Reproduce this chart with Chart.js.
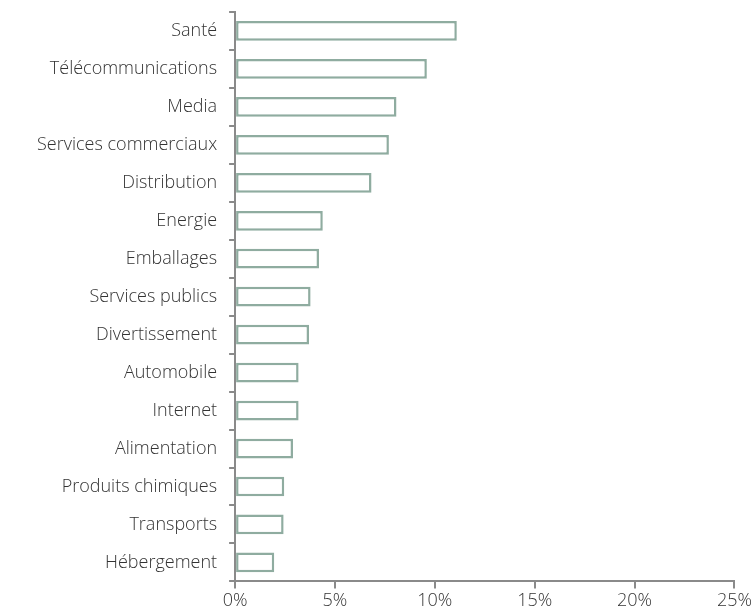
<!DOCTYPE html>
<html>
<head>
<meta charset="utf-8">
<script src="https://cdn.jsdelivr.net/npm/chart.js@4"></script>
<style>
  html, body { margin: 0; padding: 0; background: #fff; }
  #wrap { width: 754px; height: 614px; }
</style>
</head>
<body>
<div id="wrap"><canvas id="sectorChart"></canvas></div>
<script>
const sectors = [
    "Santé", "Télécommunications", "Media", "Services commerciaux", "Distribution",
    "Energie", "Emballages", "Services publics", "Divertissement", "Automobile",
    "Internet", "Alimentation", "Produits chimiques", "Transports", "Hébergement"
];
const weights = [11.1, 9.6, 8.08, 7.7, 6.83, 4.39, 4.2, 3.78, 3.7, 3.18, 3.18, 2.9, 2.46, 2.43, 1.96];
const xTicks = [0, 5, 10, 15, 20, 25];

const barColor = "rgb(143, 172, 160)";
const axisColor = "#8a8a8a";
const textColor = "#333333";

Chart.defaults.font.family = "'Open Sans', sans-serif";
Chart.defaults.font.size = 18;
Chart.defaults.font.weight = 300;
Chart.defaults.color = textColor;

const ctx = document.getElementById('sectorChart').getContext('2d');
const sectorChart = new Chart(ctx, {
    type: 'bar',
    data: {
        labels: sectors,
        datasets: [{
            data: weights,
            backgroundColor: "#ffffff",
            borderColor: barColor,
            borderWidth: 2.5,
            borderSkipped: false,
            categoryPercentage: 1,
            barPercentage: 0.52
        }]
    },
    options: {
        indexAxis: 'y',
        responsive: true,
        maintainAspectRatio: false,
        animation: false,
        layout: { padding: { top: 12, left: 25, right: 6, bottom: 0 } },
        plugins: {
            legend: { display: false },
            tooltip: { enabled: false }
        },
        scales: {
            x: {
                min: 0,
                max: 25,
                afterBuildTicks: axis => {
                    axis.ticks = xTicks.map(v => ({ value: v }));
                },
                border: { color: axisColor, width: 2 },
                grid: {
                    drawOnChartArea: false,
                    drawTicks: true,
                    tickLength: 7,
                    color: axisColor,
                    lineWidth: 2
                },
                ticks: {
                    padding: 2,
                    callback: v => v + "%"
                }
            },
            y: {
                afterFit: axis => {
                    axis.paddingTop = 0;
                    axis.paddingBottom = 0;
                },
                border: { color: axisColor, width: 2 },
                grid: {
                    offset: true,
                    drawOnChartArea: false,
                    drawTicks: true,
                    tickLength: 6,
                    color: axisColor,
                    lineWidth: 2
                },
                ticks: {
                    padding: 12,
                    autoSkip: false
                }
            }
        }
    }
});
</script>
</body>
</html>
